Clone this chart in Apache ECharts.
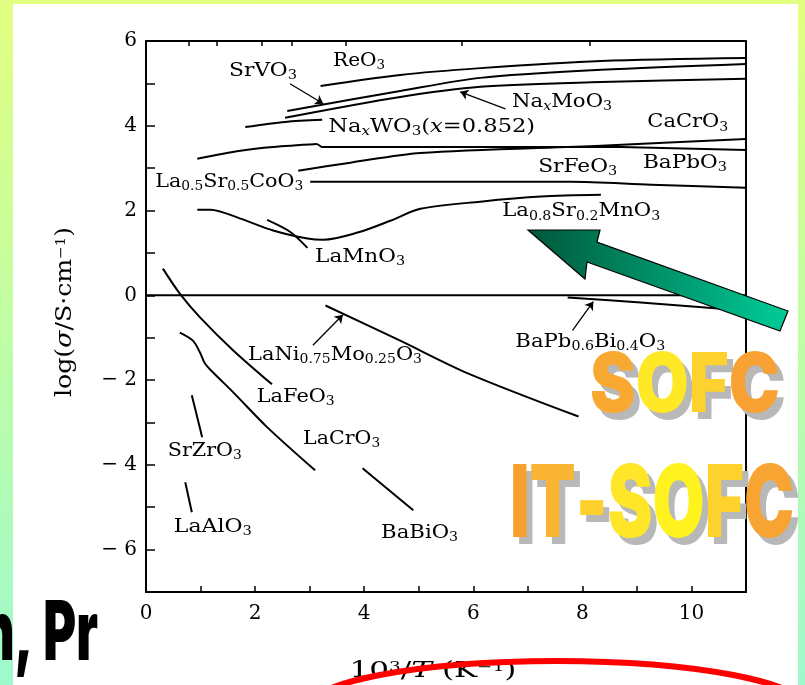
<!DOCTYPE html>
<html><head><meta charset="utf-8">
<script src="https://cdn.jsdelivr.net/npm/echarts@6.0.0/dist/echarts.min.js"></script>
<style>
html,body{margin:0;padding:0;width:805px;height:685px;overflow:hidden;}
body{background:linear-gradient(180deg,#e2ff80 0%,#bffda6 50%,#9ef9cc 100%);position:relative;}
#panel{position:absolute;left:13px;top:4px;width:785px;height:681px;background:#fff;}
#chart{position:absolute;left:0;top:0;width:805px;height:685px;}
</style></head><body>
<div id="panel"></div><div id="chart"></div>
<script>
// ---------- axes ----------
const xMin = 0, xMax = 11, xStep = 1;
const yMin = -7, yMax = 6, yStep = 1;
const xTickLabels = [0, 2, 4, 6, 8, 10];
const yTickLabels = [-6, -4, -2, 0, 2, 4, 6];
const topTickValues = [0.786, 1.294, 2.114, 2.681, 3.663, 5.780, 8.130];

// ---------- curves: [10^3/T, log(sigma)] ----------
const ReO3 = [[3.20,4.94],[4.66,5.20],[6.13,5.36],[8.34,5.53],[11.0,5.60]];
const SrVO3 = [[2.59,4.35],[4.66,4.82],[6.13,5.13],[8.34,5.32],[11.0,5.46]];
const NaxMoO3 = [[2.55,4.19],[4.66,4.68],[6.13,4.92],[8.34,5.03],[11.0,5.11]];
const NaxWO3 = [[1.82,3.97],[2.55,4.09],[3.23,4.14]];
const CaCrO3 = [[2.79,2.94],[3.75,3.13],[5.03,3.36],[8.34,3.53],[11.0,3.69]];
const BaPbO3_a = [[0.94,3.22],[1.73,3.41],[2.33,3.50],[3.14,3.57]];
const BaPbO3_b = [[3.14,3.57],[3.22,3.50],[5.03,3.50],[8.71,3.50],[11.0,3.43]];
const LaSrCoO3 = [[3.01,2.68],[5.03,2.68],[7.79,2.68],[9.26,2.61],[11.0,2.54]];
const LaSrMnO3 = [[0.94,2.02],[1.18,2.02],[1.73,1.81],[2.33,1.53],[2.96,1.34],[3.25,1.31],[3.88,1.48],[4.48,1.76],[5.03,2.04],[6.13,2.21],[7.24,2.33],[8.34,2.37]];
const LaMnO3 = [[2.22,1.78],[2.64,1.50],[2.96,1.12]];
const zeroLine = [[0,0],[11,0]];
const BaPbBiO3 = [[7.73,-0.05],[9.07,-0.17],[10.49,-0.31],[11.0,-0.36]];
const LaNiMoO3 = [[3.29,-0.24],[4.66,-1.07],[5.90,-1.84],[7.93,-2.86]];
const LaFeO3 = [[0.31,0.63],[0.62,0.04],[0.99,-0.52],[1.60,-1.30],[2.31,-2.10]];
const LaCrO3 = [[0.62,-0.88],[0.86,-1.07],[0.99,-1.35],[1.08,-1.61],[1.23,-1.82],[1.60,-2.29],[2.22,-3.11],[3.10,-4.13]];
const SrZrO3 = [[0.84,-2.36],[1.03,-3.35]];
const LaAlO3 = [[0.72,-4.41],[0.84,-5.12]];
const BaBiO3 = [[3.97,-4.08],[4.90,-5.07]];

// leader arrows: [from, to]
const leaders = [
  [[2.64,4.99],[3.25,4.52]],
  [[6.59,4.40],[5.76,4.80]],
  [[3.06,-1.18],[3.61,-0.46]],
  [[7.82,-0.83],[8.20,-0.15]]
];

// ---------- annotation labels ----------
const labels = [
  {t:[['n','ReO'],['s','3']], at:[3.43,5.53], w:52},
  {t:[['n','SrVO'],['s','3']], at:[1.52,5.29], w:68},
  {t:[['n','Na'],['si','x'],['n','WO'],['s','3'],['n','('],['i','x'],['n','=0.852)']], at:[3.34,3.97], w:207},
  {t:[['n','Na'],['si','x'],['n','MoO'],['s','3']], at:[6.71,4.56], w:100},
  {t:[['n','CaCrO'],['s','3']], at:[9.19,4.07], w:81},
  {t:[['n','La'],['s','0.5'],['n','Sr'],['s','0.5'],['n','CoO'],['s','3']], at:[0.17,2.67], w:148},
  {t:[['n','SrFeO'],['s','3']], at:[7.19,3.03], w:79},
  {t:[['n','BaPbO'],['s','3']], at:[9.11,3.12], w:84},
  {t:[['n','La'],['s','0.8'],['n','Sr'],['s','0.2'],['n','MnO'],['s','3']], at:[6.53,1.97], w:158},
  {t:[['n','LaMnO'],['s','3']], at:[3.10,0.90], w:90},
  {t:[['n','LaNi'],['s','0.75'],['n','Mo'],['s','0.25'],['n','O'],['s','3']], at:[1.87,-1.41], w:174},
  {t:[['n','BaPb'],['s','0.6'],['n','Bi'],['s','0.4'],['n','O'],['s','3']], at:[6.77,-1.10], w:150},
  {t:[['n','LaFeO'],['s','3']], at:[2.03,-2.40], w:78},
  {t:[['n','LaCrO'],['s','3']], at:[2.88,-3.39], w:77},
  {t:[['n','SrZrO'],['s','3']], at:[0.40,-3.67], w:74},
  {t:[['n','LaAlO'],['s','3']], at:[0.51,-5.47], w:78},
  {t:[['n','BaBiO'],['s','3']], at:[4.31,-5.61], w:77}
];
const yTitle = [['t','log('],['ti','σ'],['t','/S·cm'],['sup','−1'],['t',')']];
const xTitle = [['t','10'],['sup','3'],['t','/'],['ti','T'],['t',' (K'],['sup','−1'],['t',')']];

const SERIF = '"DejaVu Serif", "Liberation Serif", serif';
const HEAVY = 'Inter, Roboto, "DejaVu Sans", sans-serif';
const INK = '#000';

const curves = [
  {name:'ReO3', data:ReO3, smooth:0.3},
  {name:'SrVO3', data:SrVO3, smooth:0.3},
  {name:'NaxMoO3', data:NaxMoO3, smooth:0.3},
  {name:'NaxWO3', data:NaxWO3, smooth:0.3},
  {name:'CaCrO3', data:CaCrO3, smooth:0.3},
  {name:'BaPbO3a', data:BaPbO3_a, smooth:0.3},
  {name:'BaPbO3b', data:BaPbO3_b, smooth:false},
  {name:'La0.5Sr0.5CoO3', data:LaSrCoO3, smooth:0.3},
  {name:'La0.8Sr0.2MnO3', data:LaSrMnO3, smooth:0.3},
  {name:'LaMnO3', data:LaMnO3, smooth:0.3},
  {name:'zero', data:zeroLine, smooth:false},
  {name:'BaPb0.6Bi0.4O3', data:BaPbBiO3, smooth:0.3},
  {name:'LaNi0.75Mo0.25O3', data:LaNiMoO3, smooth:0.3},
  {name:'LaFeO3', data:LaFeO3, smooth:0.3},
  {name:'LaCrO3', data:LaCrO3, smooth:0.3},
  {name:'SrZrO3', data:SrZrO3, smooth:false},
  {name:'LaAlO3', data:LaAlO3, smooth:false},
  {name:'BaBiO3', data:BaBiO3, smooth:false}
];

const series = curves.map(c => ({
  type:'line', name:c.name, data:c.data, smooth:c.smooth, symbol:'none', showSymbol:false,
  silent:true, z:5, lineStyle:{color:INK, width:2}
}));
series.find(s => s.name === 'zero').markLine = {
  silent:true, symbol:['none','arrow'], symbolSize:8, animation:false,
  label:{show:false}, lineStyle:{color:INK, width:1.3, type:'solid'},
  emphasis:{disabled:true},
  data: leaders.map(l => [{coord:l[0]},{coord:l[1]}])
};

const fmtY = v => yTickLabels.includes(v) ? (v < 0 ? '− ' + (-v) : String(v)) : '';
const fmtX = v => xTickLabels.includes(v) ? String(v) : '';

const option = {
  animation:false,
  backgroundColor:'transparent',
  grid:{left:146, top:41, width:600, height:551},
  xAxis:[
    {type:'value', min:xMin, max:xMax, interval:xStep, position:'bottom',
     axisLine:{onZero:false, lineStyle:{color:INK, width:2}},
     axisTick:{inside:true, length:6, lineStyle:{color:INK, width:1.5}},
     axisLabel:{margin:12, fontFamily:SERIF, fontSize:20, color:INK, formatter:fmtX},
     splitLine:{show:false}},
    {type:'value', min:xMin, max:xMax, position:'top',
     axisLine:{onZero:false, lineStyle:{color:INK, width:2}},
     axisTick:{show:true, inside:true, length:5, customValues:topTickValues, lineStyle:{color:INK, width:1.5}},
     axisLabel:{show:false}, splitLine:{show:false}}
  ],
  yAxis:[
    {type:'value', min:yMin, max:yMax, interval:yStep, position:'left',
     axisLine:{onZero:false, lineStyle:{color:INK, width:2}},
     axisTick:{inside:true, length:9, lineStyle:{color:INK, width:1.5}},
     axisLabel:{margin:9, fontFamily:SERIF, fontSize:20, color:INK, formatter:fmtY},
     splitLine:{show:false}},
    {type:'value', min:yMin, max:yMax, interval:yStep, position:'right',
     axisLine:{onZero:false, lineStyle:{color:INK, width:2}},
     axisTick:{show:false}, axisLabel:{show:false}, splitLine:{show:false}}
  ],
  series: series
};

const chart = echarts.init(document.getElementById('chart'), null, {renderer:'canvas'});
chart.setOption(option);

// ---------- overlays ----------
const mctx = document.createElement('canvas').getContext('2d');
function fontOf(st){ return (st.fontStyle||'normal')+' '+(st.fontWeight||'normal')+' '+st.fontSize+'px '+st.fontFamily; }
function natW(tokens, rich){
  return tokens.reduce((w,[s,t]) => { mctx.font = fontOf(rich[s]); return w + mctx.measureText(t).width; }, 0);
}
const richStr = tokens => tokens.map(([s,t]) => '{'+s+'|'+t+'}').join('');

const LRICH = {
  n:{fontFamily:SERIF, fontSize:18, fill:INK, verticalAlign:'top', lineHeight:22},
  i:{fontFamily:SERIF, fontSize:18, fontStyle:'italic', fill:INK, verticalAlign:'top', lineHeight:22},
  s:{fontFamily:SERIF, fontSize:12, fill:INK, verticalAlign:'top', padding:[8,0,0,0]},
  si:{fontFamily:SERIF, fontSize:12, fontStyle:'italic', fill:INK, verticalAlign:'top', padding:[8,0,0,0]}
};
const TRICH = {
  t:{fontFamily:SERIF, fontSize:22, fill:INK, verticalAlign:'top', lineHeight:24},
  ti:{fontFamily:SERIF, fontSize:22, fontStyle:'italic', fill:INK, verticalAlign:'top', lineHeight:24},
  sup:{fontFamily:SERIF, fontSize:13, fill:INK, verticalAlign:'top', padding:[1,0,0,0]}
};

const toPx = p => chart.convertToPixel({xAxisIndex:0, yAxisIndex:0}, p);
const g = [];

labels.forEach(L => {
  const p = toPx(L.at);
  g.push({type:'text', x:p[0], y:p[1]+2, scaleX:L.w / natW(L.t, LRICH), z:50, silent:true,
    style:{text:richStr(L.t), rich:LRICH, align:'left', verticalAlign:'middle'}});
});

// axis titles
g.push({type:'text', x:66, y:312, rotation:Math.PI/2, scaleX:170 / natW(yTitle, TRICH), z:50, silent:true,
  style:{text:richStr(yTitle), rich:TRICH, align:'center', verticalAlign:'middle'}});
g.push({type:'text', x:433, y:672, scaleX:167 / natW(xTitle, TRICH), z:50, silent:true,
  style:{text:richStr(xTitle), rich:TRICH, align:'center', verticalAlign:'middle'}});

// green arrow
g.push({type:'polygon', z:90, silent:true,
  shape:{points:[[528,230],[600,230],[597,242],[788,311],[780,331],[587,262],[585,279]]},
  style:{fill:new echarts.graphic.LinearGradient(0,0,1,0,[{offset:0,color:'#00573a'},{offset:1,color:'#00cc98'}]),
         stroke:'#000', lineWidth:1.2}});

// big heavy texts: one token per letter, each with its own fill
function heavy(str, colors, left, capTop, capBot, right, z){
  const fs = +((capBot - capTop) / 0.727).toFixed(1);
  const font = '900 ' + fs + 'px ' + HEAVY;
  mctx.font = font;
  const w = mctx.measureText(str).width;
  const chars = str.split('');
  const rich = {};
  chars.forEach((c, i) => { rich['c'+i] = {fontFamily:HEAVY, fontSize:fs, fontWeight:900, fill:colors[i % colors.length]}; });
  return {type:'text', x:left, y:(capTop+capBot)/2, scaleX:(right-left)/w, z:z, silent:true,
    style:{text:chars.map((c,i)=>'{c'+i+'|'+c+'}').join(''), rich:rich, font:font, align:'left', verticalAlign:'middle'}};
}
const GRAY = ['#b8b8b8'];
g.push(heavy('SOFC', GRAY, 596, 364, 424, 786, 95));
g.push(heavy('SOFC', ['#f9a932','#ffe826','#fdd22e','#f7a232'], 590, 357, 417, 780, 96));
g.push(heavy('IT-SOFC', GRAY, 516, 477, 550, 798, 95));
g.push(heavy('IT-SOFC', ['#f7a030','#fab534','#fdd02e','#ffe628','#fff21e','#fdd22c','#f8a432'], 510, 470, 543, 792, 96));
g.push(heavy('n, Pr', ['#000'], -18, 605, 665, 98, 96));

// red ellipse
g.push({type:'ellipse', z:99, silent:true, shape:{cx:556.5, cy:709, rx:250, ry:48},
  style:{fill:'none', stroke:'#ff0000', lineWidth:6}});

chart.setOption({graphic:{elements:g}});
</script></body></html>
